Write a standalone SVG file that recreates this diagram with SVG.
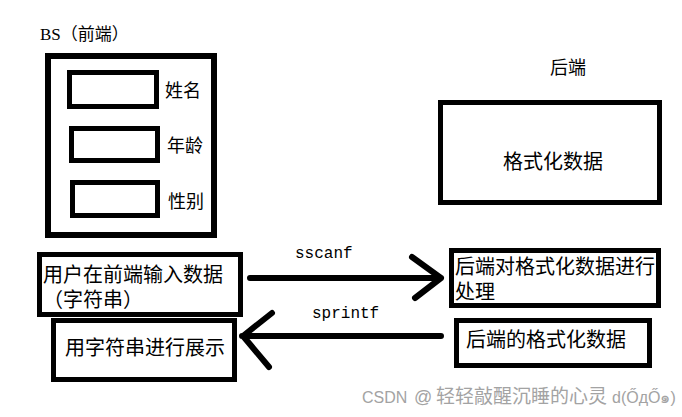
<svg xmlns="http://www.w3.org/2000/svg" width="682" height="417" viewBox="0 0 682 417">
<style>
.box{fill:none;stroke:#000;stroke-width:5}
.cjk{font-family:"Noto Sans CJK SC","Noto Sans",sans-serif;fill:#000}
.serif{font-family:"Liberation Serif","Noto Sans CJK SC",serif;fill:#000}
.mono{font-family:"Liberation Mono",monospace;font-size:16px;fill:#000}
.conn{fill:none;stroke:#000;stroke-width:6;stroke-linecap:round;stroke-linejoin:round}
.wm{font-family:"Liberation Sans","Noto Sans CJK SC",sans-serif;fill:#a3a3a3}
</style>
<rect width="682" height="417" fill="#fff"/>
<g id="frontend-title"><text class="serif" x="40" y="40" font-size="17">BS（前端）</text></g>
<g id="frontend-frame"><rect x="48" y="56" width="166" height="179" fill="none" stroke="#000" stroke-width="6"/></g>
<g id="field-name"><rect class="box" x="69.5" y="72.5" width="87" height="34"/><text class="cjk" x="165" y="96.7" font-size="18">姓名</text></g>
<g id="field-age"><rect class="box" x="71.5" y="128.5" width="86" height="32"/><text class="cjk" x="167" y="151.7" font-size="18">年龄</text></g>
<g id="field-gender"><rect class="box" x="72.5" y="182.5" width="85" height="33"/><text class="cjk" x="168" y="207.7" font-size="18">性别</text></g>
<g id="backend-title"><text class="cjk" x="550" y="73.6" font-size="18">后端</text></g>
<g id="backend-data"><rect class="box" x="440.5" y="102.5" width="219" height="100"/><text class="cjk" x="503" y="169.4" font-size="20">格式化数据</text></g>
<g id="user-input"><rect class="box" x="39.5" y="254.5" width="201" height="60"/><text class="cjk" font-size="20"><tspan x="43" y="282.4">用户在前端输入数据</tspan><tspan x="43" y="307.4">（字符串）</tspan></text></g>
<g id="backend-process"><rect class="box" x="451.5" y="250.5" width="207" height="55"/><text class="cjk" font-size="20"><tspan x="455" y="274">后端对格式化数据进行</tspan><tspan x="455" y="299">处理</tspan></text></g>
<g id="display"><rect class="box" x="53.5" y="320.5" width="181" height="59"/><text class="cjk" x="65" y="355.4" font-size="20">用字符串进行展示</text></g>
<g id="backend-formatted"><rect class="box" x="456.5" y="320.5" width="193" height="45"/><text class="cjk" x="466" y="347.4" font-size="20">后端的格式化数据</text></g>
<g id="connectors">
<path class="conn" d="M250 278 L441 278 M412 257 L441 278 L415 298"/>
<text class="mono" x="295" y="258">sscanf</text>
<path class="conn" d="M441 336 L242 336 M272 313 L243 336 L269 367"/>
<text class="mono" x="312" y="318">sprintf</text>
</g>
<g id="watermark"><text class="wm" y="403" font-size="16"><tspan x="362">CSDN</tspan><tspan x="414" font-size="18">@</tspan><tspan x="436" font-size="19" font-family="Noto Sans CJK SC,sans-serif">轻轻敲醒沉睡的心灵</tspan><tspan x="612">d(ŐдŐ๑)</tspan></text></g>
</svg>
